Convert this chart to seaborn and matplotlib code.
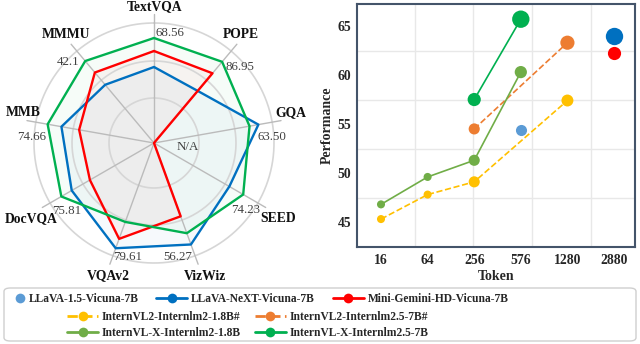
import numpy as np
import pandas as pd
import matplotlib
matplotlib.use("Agg")
import matplotlib.pyplot as plt
import seaborn as sns
from matplotlib.lines import Line2D
from matplotlib.patches import FancyBboxPatch

sns.set_style("white")
plt.rcParams["font.family"] = ["Liberation Serif", "DejaVu Serif"]

# ---------------- radar data ----------------
benchmarks = ["TextVQA", "POPE", "GQA", "SEED", "VizWiz", "VQAv2", "DocVQA", "MMB", "MMMU"]
best_scores = ["68.56", "86.95", "63.50", "74.23", "56.27", "79.61", "75.81", "74.66", "42.1"]
# normalised radius per benchmark (outer ring = 120)
radar_llava_next = [76, 68, 106, 87, 108, 112, 95, 94, 76]
radar_mini_gemini = [92, 91, 0, 0, 78, 102, 74, 76, 92]
radar_internvl_x = [105, 106, 97, 103, 96, 84, 107, 108, 107]

# ---------------- token / performance data ----------------
tokens = ["16", "64", "256", "576", "1280", "2880"]
models = ["LLaVA-1.5-Vicuna-7B", "LLaVA-NeXT-Vicuna-7B", "Mini-Gemini-HD-Vicuna-7B",
          "InternVL2-Internlm2-1.8B#", "InternVL2-Internlm2.5-7B#",
          "InternVL-X-Internlm2-1.8B", "InternVL-X-Internlm2.5-7B"]
llava15_tok = ["576"]
llava15_perf = [54.4]
llava_next_tok = ["2880"]
llava_next_perf = [64.0]
mgm_tok = ["2880"]
mgm_perf = [62.2]
ivl2_18_tok = ["16", "64", "256", "1280"]
ivl2_18_perf = [45.3, 47.8, 49.1, 57.4]
ivl2_7_tok = ["256", "1280"]
ivl2_7_perf = [54.5, 63.3]
ivlx_18_tok = ["16", "64", "256", "576"]
ivlx_18_perf = [46.8, 49.6, 51.3, 60.3]
ivlx_7_tok = ["256", "576"]
ivlx_7_perf = [57.5, 65.7]

# styles (marker diameters in points)
colors = ["#5B9BD5", "#0070C0", "#FF0000", "#FFC000", "#ED7D31", "#70AD47", "#00B050"]
dashed = [False, False, False, True, True, False, False]
marker_d = [[8.0], [12.5], [9.5], [5.8, 5.8, 8.0, 8.6], [8.0, 10.2], [5.8, 5.8, 8.0, 8.8], [9.5, 12.5]]

series_tok = [llava15_tok, llava_next_tok, mgm_tok, ivl2_18_tok, ivl2_7_tok, ivlx_18_tok, ivlx_7_tok]
series_perf = [llava15_perf, llava_next_perf, mgm_perf, ivl2_18_perf, ivl2_7_perf, ivlx_18_perf, ivlx_7_perf]

rows = []
for m, tk, pf in zip(models, series_tok, series_perf):
    for t, p in zip(tk, pf):
        rows.append({"model": m, "token": t, "perf": p})
df = pd.DataFrame(rows)
df["pos"] = pd.Categorical(df["token"], categories=tokens).codes

W, H = 640, 344
fig = plt.figure(figsize=(W / 100, H / 100), dpi=100)


def fx(x):
    return x / W


def fy(y):
    return 1 - y / H


# ---------------- radar ----------------
cx, cy, R = 154, 143, 130
axr = fig.add_axes([fx(cx - R), fy(cy + R), 2 * R / W, 2 * R / H], projection="polar")
axr.set_theta_offset(np.pi / 2)
axr.set_theta_direction(-1)
axr.set_ylim(0, R)
axr.axis("off")

n = len(benchmarks)
theta = np.arange(n) * 2 * np.pi / n
ring_t = np.linspace(0, 2 * np.pi, 300)
for r in (45, 82, 120):
    axr.plot(ring_t, np.full_like(ring_t, r), color="#D6D6D6", lw=1.2, zorder=1)
for t in theta:
    axr.plot([t, t], [0, 129], color="#BBBBBB", lw=1.0, zorder=1)

radar_sets = [(radar_llava_next, "#0070C0"), (radar_mini_gemini, "#FF0000"), (radar_internvl_x, "#00B050")]
for vals, c in radar_sets:
    tc = np.append(theta, 2 * np.pi)
    rc = np.append(vals, vals[0])
    axr.fill(tc, rc, color=c, alpha=0.035, lw=0, zorder=0)
for vals, c in radar_sets:
    tc = np.append(theta, 2 * np.pi)
    rc = np.append(vals, vals[0]).astype(float)
    sns.lineplot(x=tc, y=rc, ax=axr, color=c, lw=1.7, sort=False, estimator=None, zorder=3)

cat_pos = [(155, 7), (241, 35), (291, 113), (278, 219), (205, 276), (108, 276), (31, 219), (23, 113), (66, 35)]
for name, (x, y) in zip(benchmarks, cat_pos):
    fig.text(fx(x), fy(y), name, ha="center", va="center", fontsize=9.8, fontweight="bold", color="#111111")
val_pos = [(170, 33), (240, 67), (272, 137), (246, 210), (178, 257), (128, 257), (67, 211), (32, 137), (68, 62)]
for s, (x, y) in zip(best_scores, val_pos):
    fig.text(fx(x), fy(y), s, ha="center", va="center", fontsize=9.3, color="#404040")
fig.text(fx(188), fy(147), "N/A", ha="center", va="center", fontsize=9.3, color="#404040")

# ---------------- token vs performance ----------------
axs = fig.add_axes([fx(357), fy(247), (635 - 357) / W, (247 - 4) / H])
for i, m in enumerate(models):
    sub = df[df["model"] == m]
    if len(sub) > 1:
        sns.lineplot(data=sub, x="pos", y="perf", ax=axs, color=colors[i], lw=1.2,
                     linestyle="--" if dashed[i] else "-", sort=False, estimator=None, zorder=2)
    sns.scatterplot(data=sub, x="pos", y="perf", ax=axs, color=colors[i],
                    s=np.array(marker_d[i]) ** 2, linewidth=0, zorder=3, legend=False)

axs.set_xlim(-0.515, 5.45)
axs.set_ylim(42.45, 67.25)
axs.set_xticks(range(len(tokens)))
axs.set_xticklabels(tokens)
axs.set_yticks([45, 50, 55, 60, 65])
axs.set_xticks([0.73, 1.97, 3.24, 4.51], minor=True)
axs.set_yticks([47.5, 52.5, 57.5, 62.5], minor=True)
axs.grid(False)
axs.grid(True, which="minor", color="#E8E8E8", lw=1.0)
axs.tick_params(which="both", length=0)
axs.tick_params(axis="x", pad=5)
axs.tick_params(axis="y", pad=4)
for lab in axs.get_xticklabels() + axs.get_yticklabels():
    lab.set_fontweight("bold")
    lab.set_fontsize(9.8)
axs.set_xlabel("Token", fontsize=10, fontweight="bold", labelpad=2)
axs.set_ylabel("Performance", fontsize=10, fontweight="bold", labelpad=3)
for sp in axs.spines.values():
    sp.set_color("#44546A")
    sp.set_linewidth(1.5)

# ---------------- legend ----------------
frame = FancyBboxPatch((fx(4), fy(341)), fx(632), (341 - 288) / H,
                       boxstyle="round,pad=0,rounding_size=0.01", transform=fig.transFigure,
                       facecolor="white", edgecolor="#CFCFCF", lw=1.0)
fig.patches.append(frame)


def handle(i, line=True):
    return Line2D([], [], color=colors[i], lw=2.0 if line else 0, linestyle="--" if dashed[i] else "-",
                  marker="o", markersize=7, markeredgewidth=0)


leg_kw = dict(frameon=False, prop={"weight": "bold", "size": 8.3}, borderpad=0, borderaxespad=0,
              handletextpad=0.3)
lg1 = fig.legend([handle(0, False)], [models[0]], loc="center left",
                 bbox_to_anchor=(fx(14), fy(299)), handlelength=1.0, **leg_kw)
lg2 = fig.legend([handle(1), handle(2)], models[1:3], loc="center left", ncol=2,
                 bbox_to_anchor=(fx(156), fy(299)), handlelength=2.7, columnspacing=1.6, **leg_kw)
lg3 = fig.legend([handle(3), handle(5), handle(4), handle(6)],
                 [models[3], models[5], models[4], models[6]], loc="center left", ncol=2,
                 bbox_to_anchor=(fx(67), fy(325)), handlelength=2.7, columnspacing=1.2,
                 labelspacing=0.4, **leg_kw)

fig.savefig("out.png", dpi=100)
